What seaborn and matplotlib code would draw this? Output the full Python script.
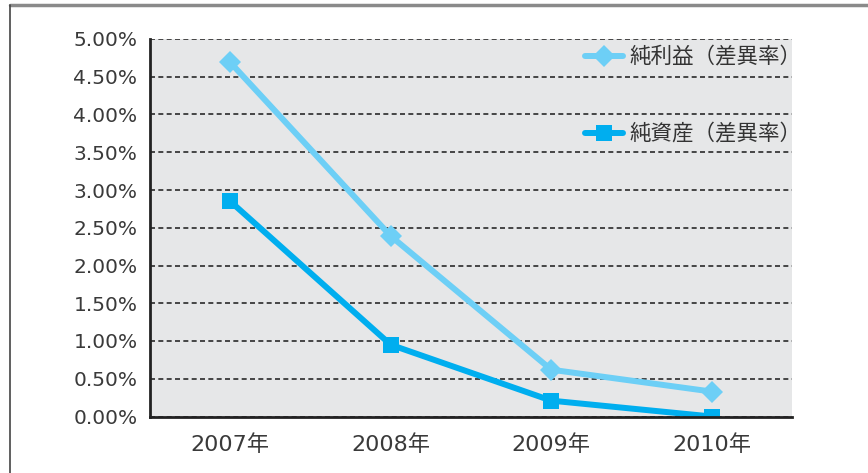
import pandas as pd
import matplotlib.pyplot as plt
import matplotlib.lines as mlines
from matplotlib.ticker import FuncFormatter, MultipleLocator, FixedLocator
import seaborn as sns

years = ['2007年', '2008年', '2009年', '2010年']
net_income = [4.69, 2.39, 0.62, 0.33]
net_assets = [2.85, 0.95, 0.21, 0.00]
series_names = ['純利益（差異率）', '純資産（差異率）']

df = pd.DataFrame({
    'year': years * 2,
    'value': net_income + net_assets,
    'series': [series_names[0]] * 4 + [series_names[1]] * 4,
})

sns.set_theme(style='white')
plt.rcParams['font.family'] = ['DejaVu Sans', 'Noto Sans CJK JP']

fig = plt.figure(figsize=(8.68, 4.73), dpi=100)
ax = fig.add_axes([150 / 868, 1 - 416.5 / 473, 642 / 868, 377.5 / 473])

# outer frame (top and left only are visible)
fig.add_artist(mlines.Line2D([10 / 868, 1], [1 - 5 / 473] * 2, color='#8a8a8a', lw=2.5))
fig.add_artist(mlines.Line2D([10 / 868] * 2, [0, 1 - 5 / 473], color='#444444', lw=1.2))

palette = {series_names[0]: '#6dcff6', series_names[1]: '#00aeef'}
markers = {series_names[0]: 'D', series_names[1]: 's'}
sns.lineplot(data=df, x='year', y='value', hue='series', style='series',
             palette=palette, markers=markers, dashes=False, sort=False,
             linewidth=4.3, markersize=11, markeredgewidth=0, ax=ax)

ax.set_facecolor('#e6e7e8')
ax.set_xlim(-0.5, 3.5)
ax.set_ylim(0, 5)
ax.yaxis.set_major_locator(MultipleLocator(0.5))
ax.yaxis.set_major_formatter(FuncFormatter(lambda v, p: f'{v:.2f}%'))
ax.grid(axis='y', color='#2a2a2a', linestyle=(0, (3, 2)), linewidth=1.2)
ax.set_axisbelow(True)

ax.set_xticks(range(4))
ax.set_xticklabels(years)
ax.xaxis.set_minor_locator(FixedLocator([-0.5, 0.5, 1.5, 2.5, 3.5]))
ax.tick_params(axis='x', which='major', length=0, pad=13, labelsize=16, labelcolor='#3a3a3a')
ax.tick_params(axis='x', which='minor', length=7, width=1.5, color='#222222', direction='out')
ax.tick_params(axis='y', length=7, width=1.5, color='#222222', direction='out',
               labelsize=14.5, labelcolor='#3a3a3a', pad=2)

for s in ['top', 'right']:
    ax.spines[s].set_visible(False)
for s in ['left', 'bottom']:
    ax.spines[s].set_color('#222222')
    ax.spines[s].set_linewidth(2)
ax.set_xlabel('')
ax.set_ylabel('')

leg = ax.legend(loc='upper right', bbox_to_anchor=(1.035, 1.014), frameon=False,
                prop={'family': ['Noto Sans CJK JP', 'DejaVu Sans'], 'size': 15.5},
                labelspacing=2.55, handlelength=1.75, handletextpad=0.3,
                borderaxespad=0.2)
for t in leg.get_texts():
    t.set_color('#333333')

fig.savefig('out.png', dpi=100)
